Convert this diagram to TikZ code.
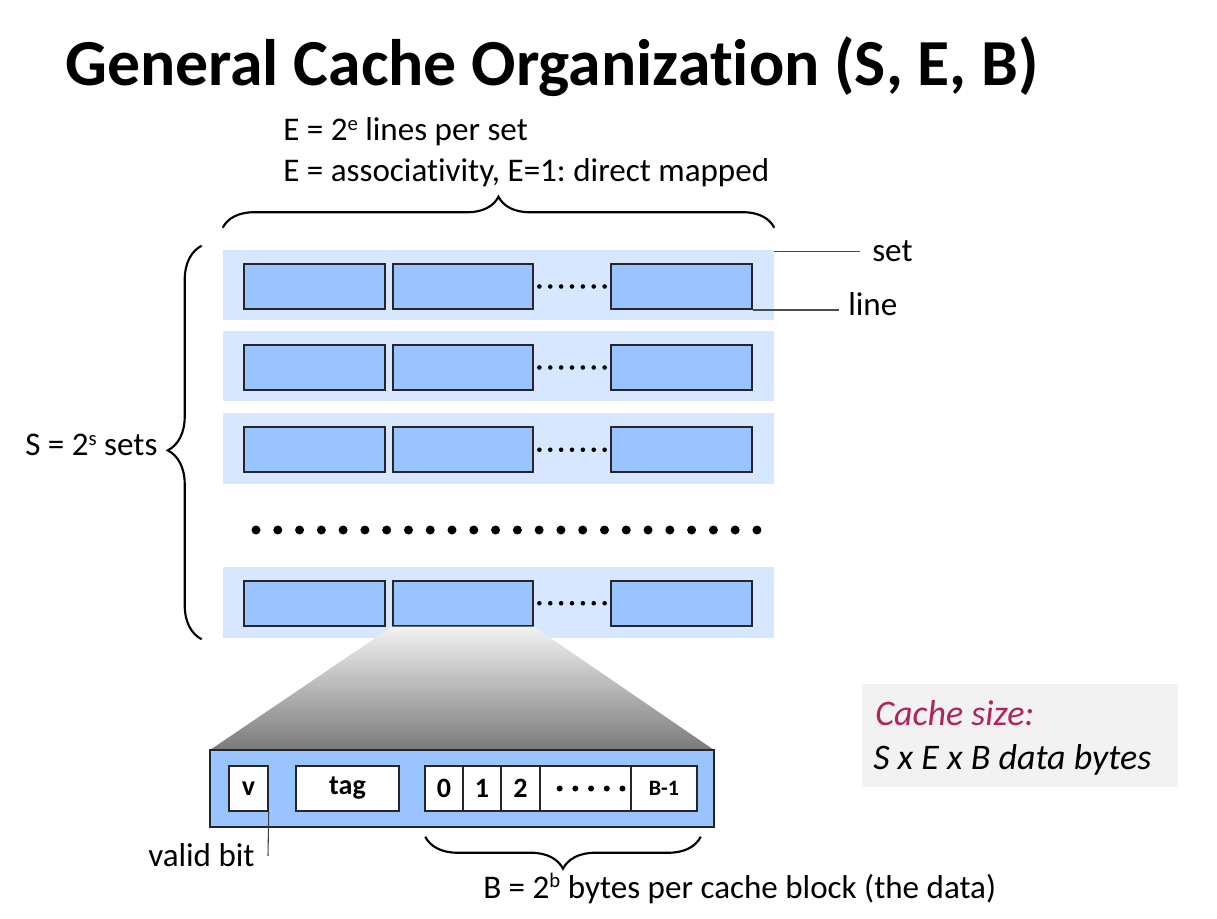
\documentclass[tikz,border=0pt]{standalone}
\usepackage{fontspec}
\setmainfont{Carlito}[Ligatures=NoCommon]
\usetikzlibrary{decorations.pathreplacing,fit,calc}

\definecolor{setbg}{RGB}{215,231,255}
\definecolor{linefill}{RGB}{153,196,255}
\definecolor{edge}{RGB}{38,38,38}
\definecolor{notebg}{RGB}{242,242,242}
\definecolor{notehead}{RGB}{175,35,95}

% superscript in the style of the slide text
\newcommand\supx[1]{\raisebox{7.8pt}{\fontsize{15.5}{16}\selectfont #1}}

\begin{document}
\frenchspacing
\begin{tikzpicture}[x=0.75pt,y=-0.75pt,
  setbox/.style={draw=none,fill=setbg,inner sep=0pt},
  linebox/.style={draw=edge,fill=linefill,line width=1.4pt,inner sep=0pt},
  cell/.style={draw=edge,fill=white,line width=1.1pt,inner sep=0pt},
  celltext/.style={inner sep=0pt,font=\fontsize{21}{24}\selectfont\bfseries},
  lbl/.style={inner sep=0pt,font=\fontsize{24.8}{28}\selectfont},
  curly/.style={decorate,decoration={brace,amplitude=#1},line width=1.6pt},
  leader/.style={draw=black!70,line width=1.1pt}
]
\useasboundingbox (0,0) rectangle (1217,919);

% title
\node[anchor=base west,inner sep=0pt,font=\fontsize{49.3}{56}\selectfont\bfseries]
  (title) at (65,86) {General Cache Organization (S, E, B)};

% sets, each with three lines and a run of dots between them
\foreach \i/\t/\b in {1/250.5/320.5, 2/331.5/401.5, 3/413.5/484, 4/567/637.5} {
  \node[setbox, fit={(223,\t) (774,\b)}] (s\i) {};
  \pgfmathsetmacro\lt{(\t+\b)/2-21.5}
  \pgfmathsetmacro\lb{(\t+\b)/2+23.5}
  \node[linebox, fit={(244,\lt) (385,\lb)}] (l\i1) {};
  \node[linebox, fit={(393,\lt) (533,\lb)}] (l\i2) {};
  \node[linebox, fit={(611,\lt) (752,\lb)}] (l\i3) {};
  \foreach \k in {0,...,6}
    \fill ($(l\i2.east)!{(\k+0.5)/7}!(l\i3.west)$) circle (2.3);
}

% elided sets
\foreach \k in {0,...,23}
  \fill ({256+\k*21.78},530) circle (4.5);

% zoom onto one line
\coordinate (bigNW) at (210,750);
\coordinate (bigNE) at (714,750);
\coordinate (bigSE) at (714,827);
\shade[top color=black!5,bottom color=black!52]
  (l42.south west) -- (l42.south east) -- (bigNE) -- (bigNW) -- cycle;
\node[linebox,line width=1.2pt,fit=(bigNW)(bigSE)] (big) {};

% fields of the line
\node[cell, fit={(229,766) (268,811)}] (v) {};
\node[cell, fit={(296,766) (399,811)}] (tag) {};
\node[cell, fit={(425,766) (463,811)}] (b0) {};
\node[cell, fit={(463,766) (501,811)}] (b1) {};
\node[cell, fit={(501,766) (540,811)}] (b2) {};
\node[cell, fit={(540,766) (631,811)}] (bdots) {};
\node[cell, fit={(631,766) (697,811)}] (bl) {};
\node[celltext] (vt) at (v.center) {v};
\node[celltext] (tagt) at (tag.center) {tag};
\node[celltext] (b0t) at (b0.center) {0};
\node[celltext] (b1t) at (b1.center) {1};
\node[celltext] (b2t) at (b2.center) {2};
\node[celltext,font=\fontsize{16.5}{18}\selectfont\bfseries] (blt) at (bl.center) {B-1};
\foreach \k in {0,...,4}
  \fill ($(bdots.west)!{0.22+\k*0.17}!(bdots.east)$) circle (3);

% braces
\draw[curly=23.25pt] ($(s1.north west)+(0,-22.5)$) -- ($(s1.north east)+(0,-22.5)$);
\draw[curly=25.5pt,decoration={aspect=0.48}] ($(s4.south west)+(-21,1.5)$) -- ($(s1.north west)+(-21,-4.5)$);
\draw[curly=24pt] ($(bl.south east)+(3,25)$) -- ($(b0.south west)+(1,25)$);

% labels
\node[lbl,anchor=base west] (elines) at (283,141) {E = 2\supx{e} lines per set};
\node[lbl,anchor=base west] (eassoc) at (283,182) {E = associativity, E=1: direct mapped};
\node[lbl,anchor=base west] (slbl) at (25,456) {S = 2\supx{s} sets};
\node[lbl,anchor=base west] (setlbl) at (872,262) {set};
\node[lbl,anchor=base west] (linelbl) at (848,316) {line};
\node[lbl,anchor=base west] (vlbl) at (148,866) {valid bit};
\node[lbl,anchor=base west] (blbl) at (483,898) {B = 2\supx{b} bytes per cache block (the data)};

% leaders
\draw[leader] ([yshift=-1pt]s1.north east) -- ([yshift=-1pt,xshift=-9pt]s1.north east -| setlbl.west);
\draw[leader] (l13.south east) -- ([xshift=-7pt]l13.south east -| linelbl.west);
\coordinate (vbend) at (268,856);
\draw[black!75,line width=0.8pt] (v.south east) -- (vbend);

% cache size note
\node[fill=notebg,inner sep=0pt,fit={(862,684) (1178,787)}] (note) {};
\node[lbl,anchor=base west,font=\fontsize{27}{30}\selectfont\itshape,text=notehead] (csz) at (875,725) {Cache size:};
\node[lbl,anchor=base west,font=\fontsize{27}{30}\selectfont\itshape] (cform) at (873,769) {S x E x B data bytes};
\end{tikzpicture}
\end{document}
